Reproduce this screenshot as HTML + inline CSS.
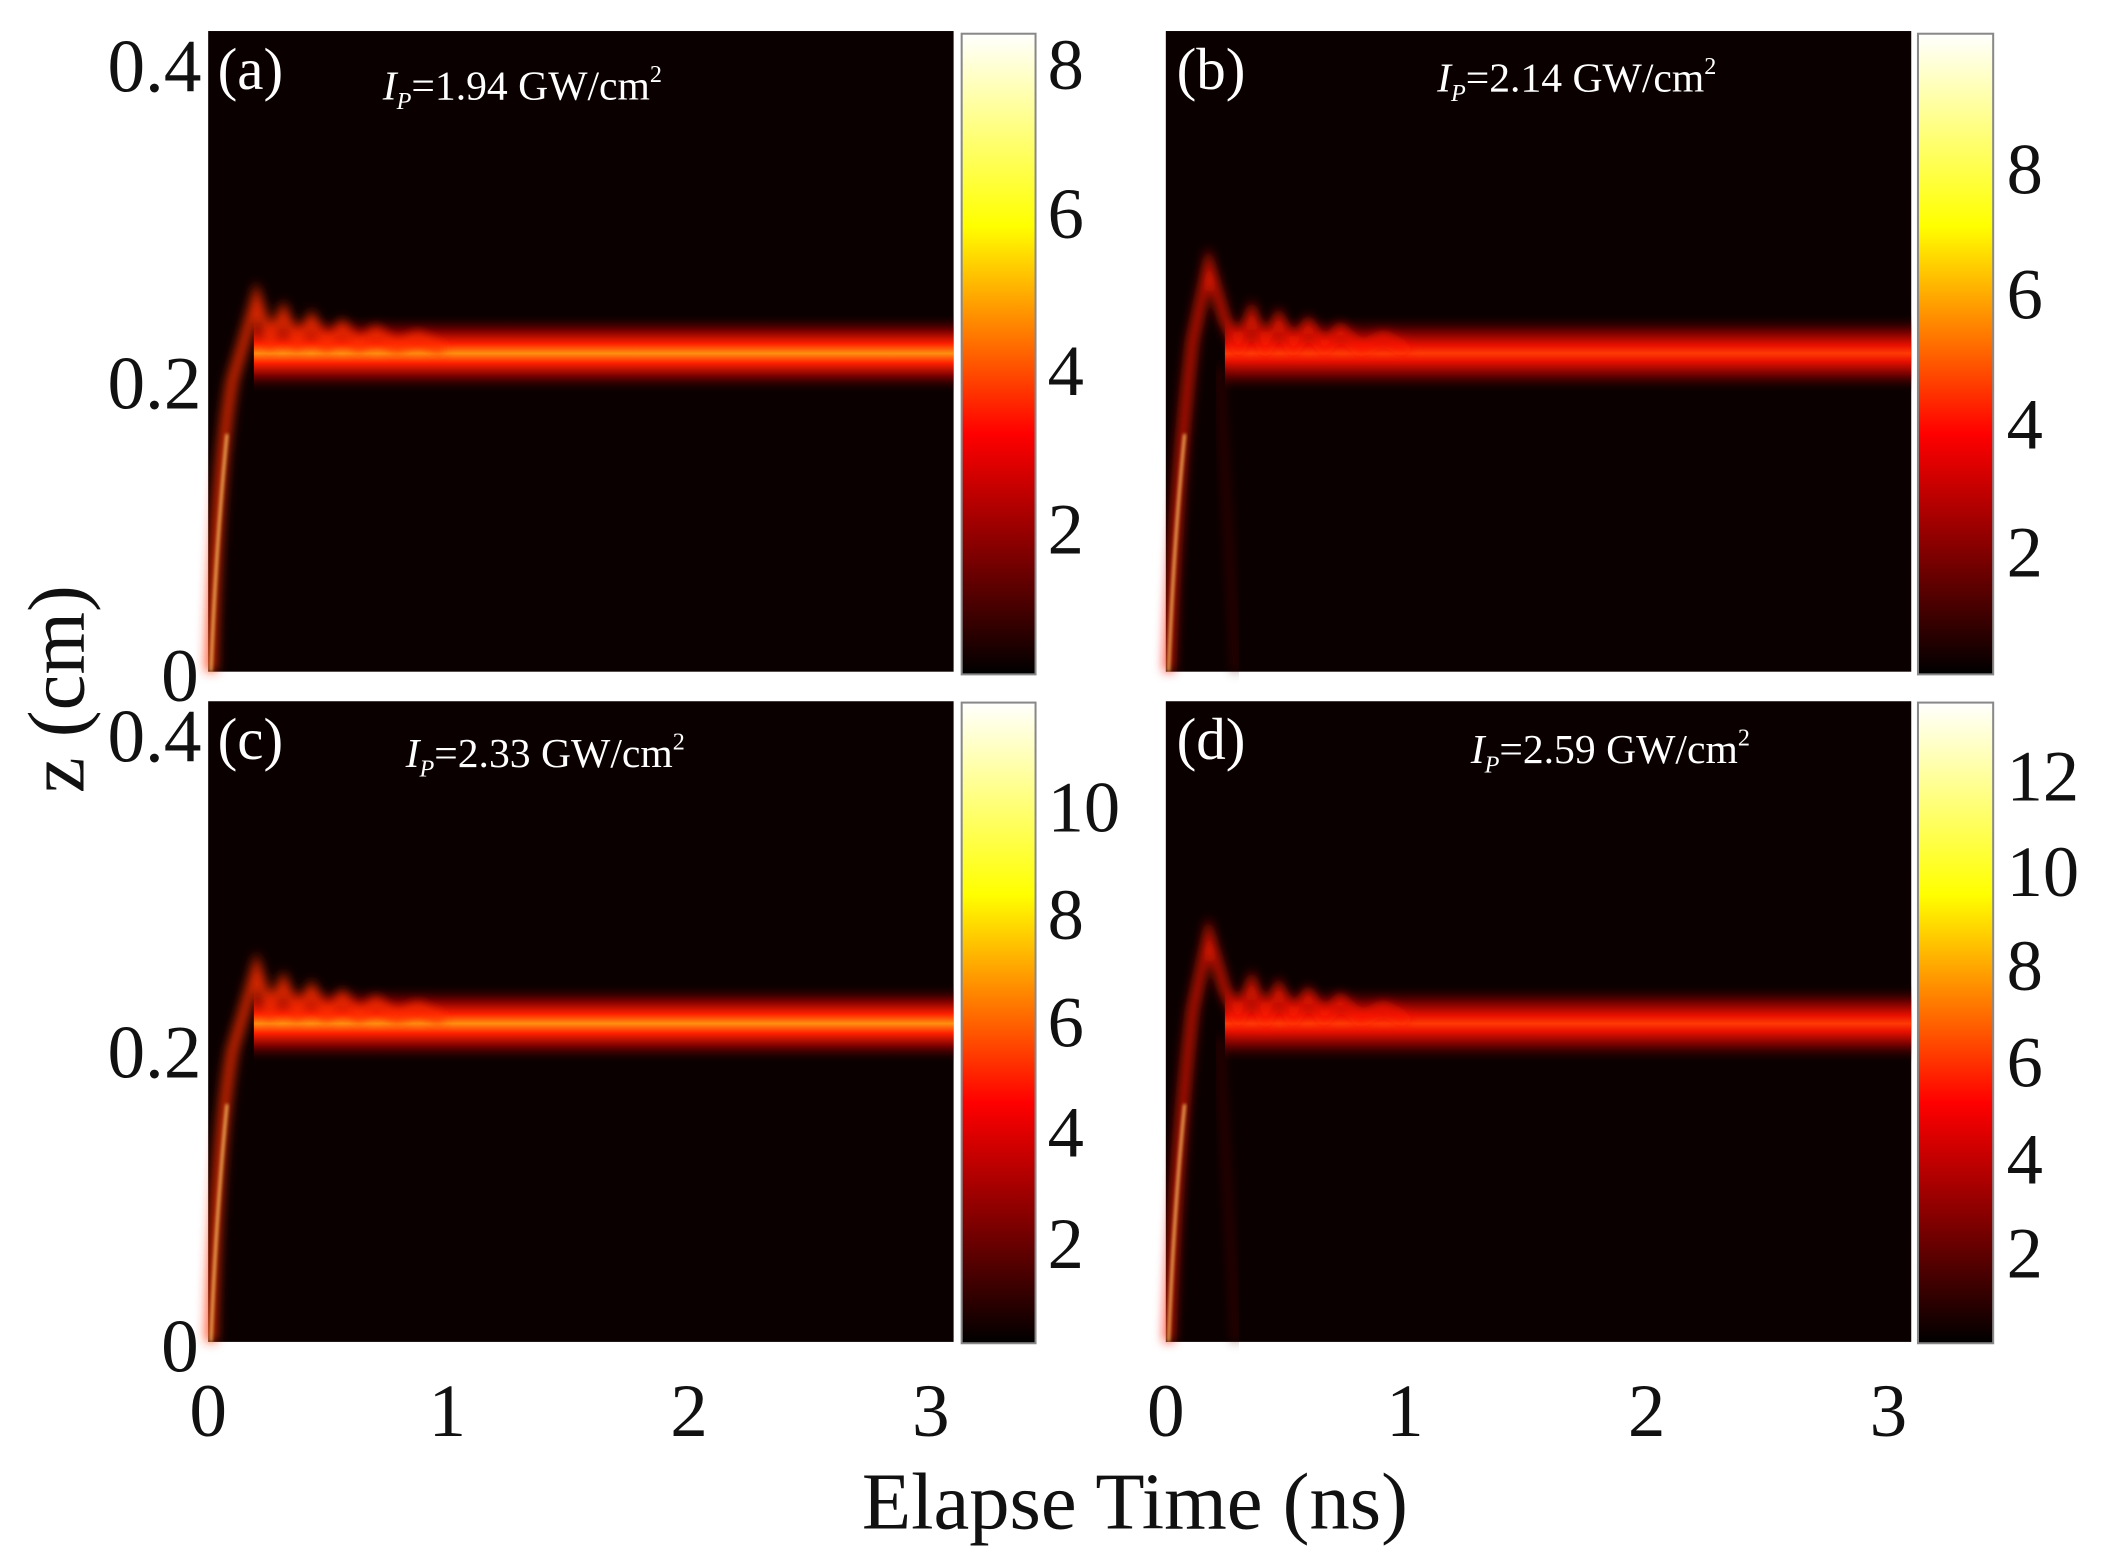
<!DOCTYPE html>
<html><head><meta charset="utf-8"><style>
html,body{margin:0;padding:0;background:#fff;}
svg{display:block;}
text{font-family:"Liberation Serif",serif;}
</style></head><body>
<svg width="2106" height="1565" viewBox="0 0 1568 1165" xmlns="http://www.w3.org/2000/svg">
<defs>
<linearGradient id="hot" x1="0" y1="1" x2="0" y2="0">
<stop offset="0" stop-color="#000"/>
<stop offset="0.375" stop-color="#ff0000"/>
<stop offset="0.7" stop-color="#ffff00"/>
<stop offset="1" stop-color="#ffffff"/>
</linearGradient>
<linearGradient id="bandO" x1="0" y1="0" x2="0" y2="1">
<stop offset="0" stop-color="#0a0000" stop-opacity="0"/>
<stop offset="0.22" stop-color="#7a0000"/>
<stop offset="0.38" stop-color="#ff2000"/>
<stop offset="0.5" stop-color="#ff9010"/>
<stop offset="0.62" stop-color="#ff2000"/>
<stop offset="0.78" stop-color="#7a0000"/>
<stop offset="1" stop-color="#0a0000" stop-opacity="0"/>
</linearGradient>
<linearGradient id="bandR" x1="0" y1="0" x2="0" y2="1">
<stop offset="0" stop-color="#0a0000" stop-opacity="0"/>
<stop offset="0.22" stop-color="#660000"/>
<stop offset="0.4" stop-color="#e81000"/>
<stop offset="0.5" stop-color="#ff3a05"/>
<stop offset="0.6" stop-color="#e81000"/>
<stop offset="0.78" stop-color="#660000"/>
<stop offset="1" stop-color="#0a0000" stop-opacity="0"/>
</linearGradient>
<filter id="bl" x="-20%" y="-20%" width="140%" height="140%"><feGaussianBlur stdDeviation="4"/></filter>
<filter id="bl2" x="-20%" y="-20%" width="140%" height="140%"><feGaussianBlur stdDeviation="1.2"/></filter>
<g id="panelO">
<rect x="0" y="0" width="555" height="477" fill="#0a0000"/>
<rect x="34" y="210" width="521" height="60" fill="url(#bandO)"/>
<path d="M2,477 Q6,330 18,260 L36,200 L46,230 L56,210 L66,232 L77,215 L88,234 L100,220 L112,235 L125,224 L140,236 L156,228 L175,238" fill="none" stroke="#ff3000" stroke-width="8" stroke-opacity="0.85" filter="url(#bl)"/>
<path d="M2,477 Q6,380 14,300" fill="none" stroke="#ffc060" stroke-width="2" filter="url(#bl2)"/>
</g>
<g id="panelR">
<rect x="0" y="0" width="555" height="477" fill="#0a0000"/>
<rect x="44" y="210" width="511" height="60" fill="url(#bandR)"/>
<path d="M2,477 Q8,330 20,230 L32,175 L44,215 L54,235 L64,210 L74,236 L84,214 L95,236 L106,218 L118,236 L130,222 L145,237 L162,228 L180,238" fill="none" stroke="#ff1800" stroke-width="7" stroke-opacity="0.85" filter="url(#bl)"/>
<path d="M2,477 Q6,380 14,300" fill="none" stroke="#ffc060" stroke-width="2" filter="url(#bl2)"/>
<path d="M40,250 L52,477" fill="none" stroke="#500000" stroke-width="3" filter="url(#bl)"/>
</g>
</defs>

<g transform="translate(155,23)"><use href="#panelO"/></g>
<g transform="translate(868,23)"><use href="#panelR"/></g>
<g transform="translate(155,522)"><use href="#panelO"/></g>
<g transform="translate(868,522)"><use href="#panelR"/></g>

<g fill="#fff" font-size="44">
<text x="162" y="66">(a)</text>
<text x="876" y="66">(b)</text>
<text x="162" y="565">(c)</text>
<text x="876" y="565">(d)</text>
</g>
<g fill="#fff" font-size="31">
<text x="285" y="74"><tspan font-style="italic">I</tspan><tspan font-size="18" dy="7" font-style="italic">P</tspan><tspan dy="-7">=1.94 GW/cm</tspan><tspan font-size="18" dy="-13">2</tspan></text>
<text x="1070" y="68"><tspan font-style="italic">I</tspan><tspan font-size="18" dy="7" font-style="italic">P</tspan><tspan dy="-7">=2.14 GW/cm</tspan><tspan font-size="18" dy="-13">2</tspan></text>
<text x="302" y="571"><tspan font-style="italic">I</tspan><tspan font-size="18" dy="7" font-style="italic">P</tspan><tspan dy="-7">=2.33 GW/cm</tspan><tspan font-size="18" dy="-13">2</tspan></text>
<text x="1095" y="568"><tspan font-style="italic">I</tspan><tspan font-size="18" dy="7" font-style="italic">P</tspan><tspan dy="-7">=2.59 GW/cm</tspan><tspan font-size="18" dy="-13">2</tspan></text>
</g>

<g stroke="#888" stroke-width="1.5">
<rect x="716" y="25" width="55" height="477" fill="url(#hot)"/>
<rect x="1428" y="25" width="56" height="477" fill="url(#hot)"/>
<rect x="716" y="523" width="55" height="477" fill="url(#hot)"/>
<rect x="1428" y="523" width="56" height="477" fill="url(#hot)"/>
</g>

<g font-size="54" fill="#111">
<text x="780" y="66">8</text><text x="780" y="177">6</text><text x="780" y="294">4</text><text x="780" y="412">2</text>
<text x="1494" y="144">8</text><text x="1494" y="237">6</text><text x="1494" y="334">4</text><text x="1494" y="429">2</text>
<text x="780" y="619">10</text><text x="780" y="699">8</text><text x="780" y="779">6</text><text x="780" y="861">4</text><text x="780" y="944">2</text>
<text x="1494" y="596">12</text><text x="1494" y="667">10</text><text x="1494" y="737">8</text><text x="1494" y="809">6</text><text x="1494" y="881">4</text><text x="1494" y="951">2</text>
</g>

<g font-size="56" fill="#111" text-anchor="end">
<text x="150" y="68">0.4</text><text x="150" y="304">0.2</text><text x="148" y="522">0</text>
<text x="150" y="567">0.4</text><text x="150" y="802">0.2</text><text x="148" y="1021">0</text>
</g>
<g font-size="56" fill="#111" text-anchor="middle">
<text x="155" y="1069">0</text><text x="333" y="1069">1</text><text x="513" y="1069">2</text><text x="693" y="1069">3</text>
<text x="868" y="1069">0</text><text x="1046" y="1069">1</text><text x="1226" y="1069">2</text><text x="1406" y="1069">3</text>
</g>
<text x="845" y="1138" font-size="60" fill="#111" text-anchor="middle">Elapse Time (ns)</text>
<text transform="translate(62,513) rotate(-90)" font-size="60" fill="#111" text-anchor="middle">z (cm)</text>
</svg>
</body></html>
